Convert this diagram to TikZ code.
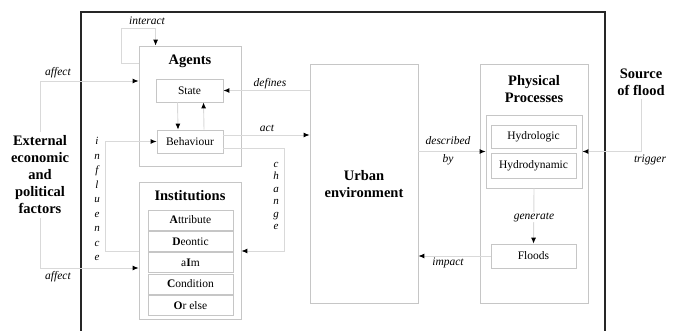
\documentclass[tikz,border=0pt]{standalone}
\usepackage{fontspec}
\setmainfont{Liberation Serif}
\usepackage{tikz}
\usetikzlibrary{arrows.meta, positioning, calc}

\begin{document}
\begin{tikzpicture}[x=1pt, y=-1pt, thick,
    box/.style={rectangle, draw=gray!45, line width=0.8pt, inner sep=0pt},
    item/.style={rectangle, draw=gray!45, line width=0.8pt, minimum width=85, minimum height=20, inner sep=0pt, font=\fontsize{11.5}{13}\selectfont},
    title/.style={align=center, font=\fontsize{14.5}{17}\selectfont\bfseries},
    lbl/.style={font=\fontsize{11.5}{13}\selectfont\itshape},
    vlbl/.style={align=center, font=\fontsize{11}{14.5}\selectfont\itshape},
    link/.style={draw=gray!30, line width=0.9pt, -{Latex[length=6pt,width=5pt,color=black]}}]

    \useasboundingbox (0,0) rectangle (676,331);
    \fill[white] (0,0) rectangle (676,331);
    % system frame
    \draw[line width=1.8pt, black!85] (81,333) -- (81,12) -- (605,12) -- (605,333);

    % agents
    \node (Agents) [box, minimum width=102, minimum height=120] at (190,106) {};
    \node (AgentsT) [title] at (190,61) {Agents};
    \node (State) [item, minimum width=67, minimum height=23] at (189.5,90.5) {State};
    \node (Behaviour) [item, minimum width=66, minimum height=23] at (190,141.5) {Behaviour};

    % institutions
    \node (Institutions) [box, minimum width=102, minimum height=137] at (190,251) {};
    \node (InstitutionsT) [title] at (190,196) {Institutions};
    \node (Attribute) [item] at (190.5,220) {\textbf{A}ttribute};
    \node (Deontic) [item, below=0.5pt of Attribute] {\textbf{D}eontic};
    \node (Aim) [item, below=0.5pt of Deontic] {a\textbf{I}m};
    \node (Condition) [item, below=0.5pt of Aim] {\textbf{C}ondition};
    \node (Orelse) [item, below=0.5pt of Condition] {\textbf{O}r else};

    % urban environment
    \node (Urban) [box, minimum width=108, minimum height=239] at (364,183.5) {};
    \node (UrbanT) [title] at (364,184) {Urban\\environment};

    % physical processes
    \node (Physical) [box, minimum width=108, minimum height=239] at (534,183.5) {};
    \node (PhysicalT) [title] at (534,89) {Physical\\Processes};
    \node (Inner) [box, minimum width=96, minimum height=73] at (534,151.5) {};
    \node (Hydrologic) [item, minimum height=23] at (533.5,136.5) {Hydrologic};
    \node (Hydrodynamic) [item, minimum height=25] at (533.5,165.5) {Hydrodynamic};
    \node (Floods) [item, minimum height=24] at (533.5,256) {Floods};

    % outside drivers
    \node (External) [title] at (40,175) {External\\economic\\and\\political\\factors};
    \node (Source) [title] at (641,82) {Source\\of flood};

    % named ends
    \coordinate (actS) at ([yshift=6.5pt]Behaviour.east);
    \coordinate (chgS) at ([yshift=-6.5pt]Behaviour.east);
    \coordinate (loopS) at ([yshift=-18pt]Agents.north west);
    \coordinate (loopE) at ([xshift=17pt]Agents.north west);
    \coordinate (affT) at ([yshift=25pt]Agents.west);
    \coordinate (affB) at ([yshift=-17pt]Institutions.west);

    % links
    \draw[link] (loopS) -- ++(-17,0) -- ++(0,-35) -| (loopE);
    \draw[link] (External.north) |- (affT);
    \draw[link] (External.south) |- (affB);
    \draw[link] (Urban.west |- State.east) -- (State.east);
    \draw[link] ([xshift=-12pt]State.south) -- ([xshift=-12pt]Behaviour.north);
    \draw[link] ([xshift=14pt]Behaviour.north) -- ([xshift=14pt]State.south);
    \draw[link] (actS) -- (actS -| Urban.west);
    \draw[link] (chgS) -- ++(61,0) |- (Institutions.east);
    \draw[link] (Institutions.west) -- ++(-33,0) |- (Behaviour.west);
    \draw[link] (Urban.east |- Inner.west) -- (Inner.west);
    \draw[link] (Source.south) |- (Inner.east);
    \draw[link] (Inner.south) -- (Floods.north);
    \draw[link] (Floods.west) -- (Floods.west -| Urban.east);

    % labels
    \node (Linteract) [lbl] at (147,21) {interact};
    \node (LaffT) [lbl] at (58,73) {affect};
    \node (LaffB) [lbl] at (58,277) {affect};
    \node (Ldefines) [lbl] at (270,84) {defines};
    \node (Lact) [lbl] at (267,128) {act};
    \node (Linfl) [vlbl] at (97,199) {i\\n\\f\\l\\u\\e\\n\\c\\e};
    \node (Lchange) [vlbl, font=\fontsize{11}{12.4}\selectfont\itshape] at (276,196) {c\\h\\a\\n\\g\\e};
    \node (Ldescr) [lbl, align=center, font=\fontsize{11.5}{18}\selectfont\itshape] at (448,151) {described\\by};
    \node (Ltrigger) [lbl] at (650,160) {trigger};
    \node (Lgenerate) [lbl, fill=white, inner sep=1pt] at (534,217) {generate};
    \node (Limpact) [lbl] at (448,263) {impact};
\end{tikzpicture}
\end{document}
